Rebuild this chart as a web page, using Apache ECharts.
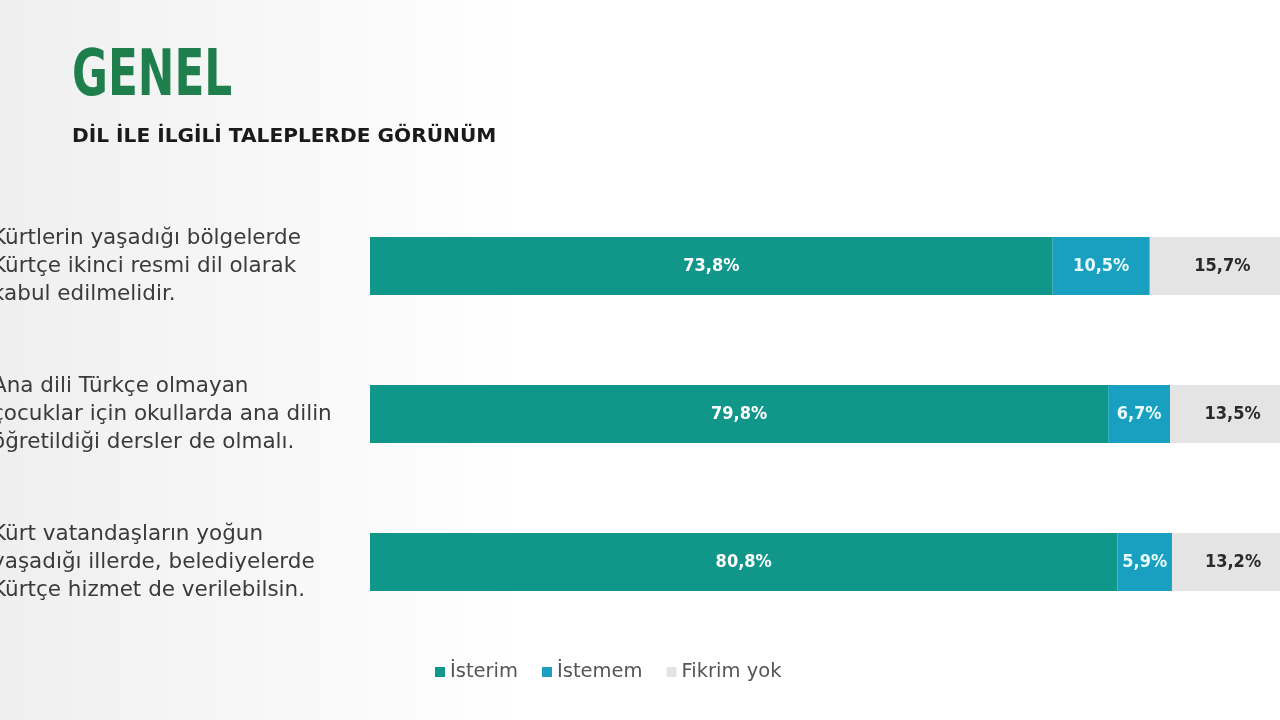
<!DOCTYPE html>
<html>
<head>
<meta charset="utf-8">
<script src="https://cdn.jsdelivr.net/npm/echarts@6/dist/echarts.min.js"></script>
<style>
  html, body { margin: 0; padding: 0; background: #fff; }
  #chart { width: 1280px; height: 720px; }
</style>
</head>
<body>
<div id="chart"></div>
<script>
const categories = [
  'Kürtlerin yaşadığı bölgelerde\nKürtçe ikinci resmi dil olarak\nkabul edilmelidir.',
  'Ana dili Türkçe olmayan\nçocuklar için okullarda ana dilin\nöğretildiği dersler de olmalı.',
  'Kürt vatandaşların yoğun\nyaşadığı illerde, belediyelerde\nKürtçe hizmet de verilebilsin.'
]
const isterim = [73.8, 79.8, 80.8]
const istemem = [10.5, 6.7, 5.9]
const fikrimYok = [15.7, 13.5, 13.2]

const fmt = (p) => p.value.toFixed(1).replace('.', ',') + '%'
const labelFont = 'DejaVu Sans Condensed'

const chart = echarts.init(document.getElementById('chart'))

chart.setOption({
  animation: false,
  backgroundColor: '#fff',
  graphic: [
    {
      type: 'rect',
      left: 0,
      top: 0,
      z: -10,
      shape: { width: 520, height: 720 },
      style: {
        fill: new echarts.graphic.LinearGradient(0, 0, 1, 0, [
          { offset: 0, color: '#efefef' },
          { offset: 0.3, color: '#f4f4f4' },
          { offset: 1, color: '#ffffff' }
        ])
      }
    },
    {
      type: 'text',
      x: 72,
      y: 46,
      scaleX: 0.76,
      style: {
        text: 'GENEL',
        font: 'bold 64px "DejaVu Sans Condensed"',
        fill: '#1f7f4c'
      }
    },
    {
      type: 'text',
      x: 72,
      y: 128,
      scaleX: 1.06,
      style: {
        text: 'DİL İLE İLGİLİ TALEPLERDE GÖRÜNÜM',
        font: 'bold 19px "DejaVu Sans"',
        fill: '#1a1a1a'
      }
    }
  ],
  legend: {
    top: 657,
    left: 430,
    itemWidth: 10,
    itemHeight: 10,
    itemGap: 24,
    icon: 'rect',
    textStyle: { fontFamily: 'DejaVu Sans', fontSize: 19.5, color: '#555' },
    data: ['İsterim', 'İstemem', 'Fikrim yok']
  },
  grid: { left: 370, right: -15, top: 192, bottom: 84, outerBoundsMode: 'none' },
  xAxis: { type: 'value', min: 0, max: 100, show: false },
  yAxis: {
    type: 'category',
    inverse: true,
    data: categories,
    axisLine: { show: false },
    axisTick: { show: false },
    axisLabel: {
      align: 'left',
      margin: 378,
      fontFamily: 'DejaVu Sans',
      fontSize: 21.5,
      lineHeight: 28,
      color: '#3a3a3a'
    }
  },
  series: [
    {
      name: 'İsterim',
      type: 'bar',
      stack: 'all',
      barWidth: 58,
      data: isterim,
      itemStyle: { color: '#11968a' },
      label: { show: true, formatter: fmt, color: '#fff', fontFamily: labelFont, fontWeight: 'bold', fontSize: 18 }
    },
    {
      name: 'İstemem',
      type: 'bar',
      stack: 'all',
      data: istemem,
      itemStyle: { color: '#19a0c0' },
      label: { show: true, formatter: fmt, color: '#e8fbff', fontFamily: labelFont, fontWeight: 'bold', fontSize: 18 }
    },
    {
      name: 'Fikrim yok',
      type: 'bar',
      stack: 'all',
      data: fikrimYok,
      itemStyle: { color: '#e4e4e4' },
      label: { show: true, formatter: fmt, color: '#2a2a2a', fontFamily: labelFont, fontWeight: 'bold', fontSize: 18 }
    }
  ]
})
</script>
</body>
</html>
